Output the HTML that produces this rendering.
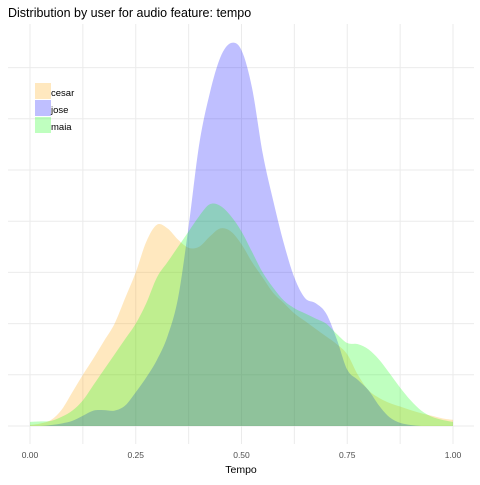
<!DOCTYPE html>
<html><head><meta charset="utf-8"><style>
body{margin:0;background:#fff;font-family:"Liberation Sans",sans-serif}
</style></head><body>
<svg id="chart" width="480" height="480" xmlns="http://www.w3.org/2000/svg" font-family="Liberation Sans, sans-serif">
<text x="8" y="17" font-size="12.5" fill="#000">Distribution by user for audio feature: tempo</text>
<g id="grid"></g>
<g id="series"></g>
<g id="xaxis"></g>
<text x="241" y="473" font-size="10.5" text-anchor="middle" fill="#000">Tempo</text>
<g>
 <rect x="35" y="83" width="16" height="16" fill="#ffa500" fill-opacity="0.25"/>
 <text x="51" y="96" font-size="9.5">cesar</text>
 <rect x="35" y="100" width="16" height="16" fill="#0000ff" fill-opacity="0.25"/>
 <text x="51" y="113" font-size="9.5">jose</text>
 <rect x="35" y="117" width="16" height="16" fill="#00ff00" fill-opacity="0.25"/>
 <text x="51" y="130" font-size="9.5">maia</text>
</g>
</svg>
<script>
const tempoGrid = [0,0.025,0.05,0.075,0.1,0.125,0.15,0.175,0.2,0.225,0.25,0.275,0.3,0.325,0.35,0.375,0.4,0.425,0.45,0.475,0.5,0.525,0.55,0.575,0.6,0.625,0.65,0.675,0.7,0.725,0.75,0.775,0.8,0.825,0.85,0.875,0.9,0.925,0.95,0.975,1];
const cesarDensity = [0.01,0.025,0.06,0.16,0.33,0.5,0.66,0.83,1.0,1.25,1.5,1.8,1.965,1.93,1.82,1.74,1.75,1.85,1.93,1.9,1.775,1.6,1.45,1.3,1.2,1.1,1.025,0.95,0.875,0.8,0.7,0.5,0.35,0.275,0.225,0.19,0.155,0.125,0.1,0.075,0.06];
const joseDensity = [0,0,0.01,0.025,0.05,0.1,0.15,0.155,0.15,0.2,0.33,0.475,0.645,0.875,1.25,1.95,2.75,3.25,3.6,3.74,3.67,3.3,2.665,2.2,1.785,1.45,1.25,1.2,1.1,0.85,0.55,0.45,0.35,0.2,0.085,0.03,0.01,0,0,0,0];
const maiaDensity = [0.04,0.045,0.05,0.09,0.15,0.25,0.4,0.55,0.7,0.85,1.0,1.2,1.45,1.6,1.75,1.9,2.05,2.165,2.15,2.05,1.9,1.7,1.5,1.35,1.225,1.15,1.1,1.05,1.0,0.9,0.81,0.8,0.75,0.65,0.515,0.375,0.25,0.15,0.09,0.06,0.04];
const xTicks = [0,0.25,0.5,0.75,1];
const xTickLabels = ["0.00","0.25","0.50","0.75","1.00"];
const yGridValues = [0,0.5,1,1.5,2,2.5,3,3.5];

const NS="http://www.w3.org/2000/svg";
const X0=30,X1=453,Y0=426,PER=51.2/0.5;
const xs=v=>X0+(X1-X0)*v;
const ys=v=>Y0-v*PER;
const grid=document.getElementById('grid');
function ln(x1,y1,x2,y2,c,w){const l=document.createElementNS(NS,'line');l.setAttribute('x1',x1);l.setAttribute('y1',y1);l.setAttribute('x2',x2);l.setAttribute('y2',y2);l.setAttribute('stroke',c);l.setAttribute('stroke-width',w);return l;}
yGridValues.forEach(v=>{const y=ys(v);const l=ln(8,y,474,y,'#ebebeb',1);


grid.appendChild(l);});
for(let i=0;i<=8;i++){const v=i/8;const l=ln(xs(v),24,xs(v),444,'#ebebeb',1);


grid.appendChild(l);}
const xa=document.getElementById('xaxis');
xTicks.forEach((v,i)=>{const t=document.createElementNS(NS,'text');t.setAttribute('x',xs(v));t.setAttribute('y',458);t.setAttribute('font-size','8.5');t.setAttribute('fill','#4d4d4d');t.setAttribute('text-anchor','middle');t.textContent=xTickLabels[i];


xa.appendChild(t);});
const sg=document.getElementById('series');
function area(vals,color,name){
 let d='M'+xs(tempoGrid[0])+','+Y0;
 const pts=tempoGrid.map((t,i)=>[xs(t),ys(vals[i])]);
 d+=' L'+pts[0][0]+','+pts[0][1];
 for(let i=0;i<pts.length-1;i++){
  const p0=pts[Math.max(0,i-1)],p1=pts[i],p2=pts[i+1],p3=pts[Math.min(pts.length-1,i+2)];
  const c1=[p1[0]+(p2[0]-p0[0])/6,p1[1]+(p2[1]-p0[1])/6],c2=[p2[0]-(p3[0]-p1[0])/6,p2[1]-(p3[1]-p1[1])/6];
  d+=' C'+c1[0]+','+Math.min(Y0,c1[1])+' '+c2[0]+','+Math.min(Y0,c2[1])+' '+p2[0]+','+p2[1];
 }
 d+=' L'+xs(tempoGrid[tempoGrid.length-1])+','+Y0+' Z';
 const p=document.createElementNS(NS,'path');p.setAttribute('d',d);p.setAttribute('fill',color);p.setAttribute('fill-opacity','0.25');
 
 
 sg.appendChild(p);
}
area(cesarDensity,'#ffa500','density-cesar');
area(joseDensity,'#0000ff','density-jose');
area(maiaDensity,'#00ff00','density-maia');
</script>
</body></html>
